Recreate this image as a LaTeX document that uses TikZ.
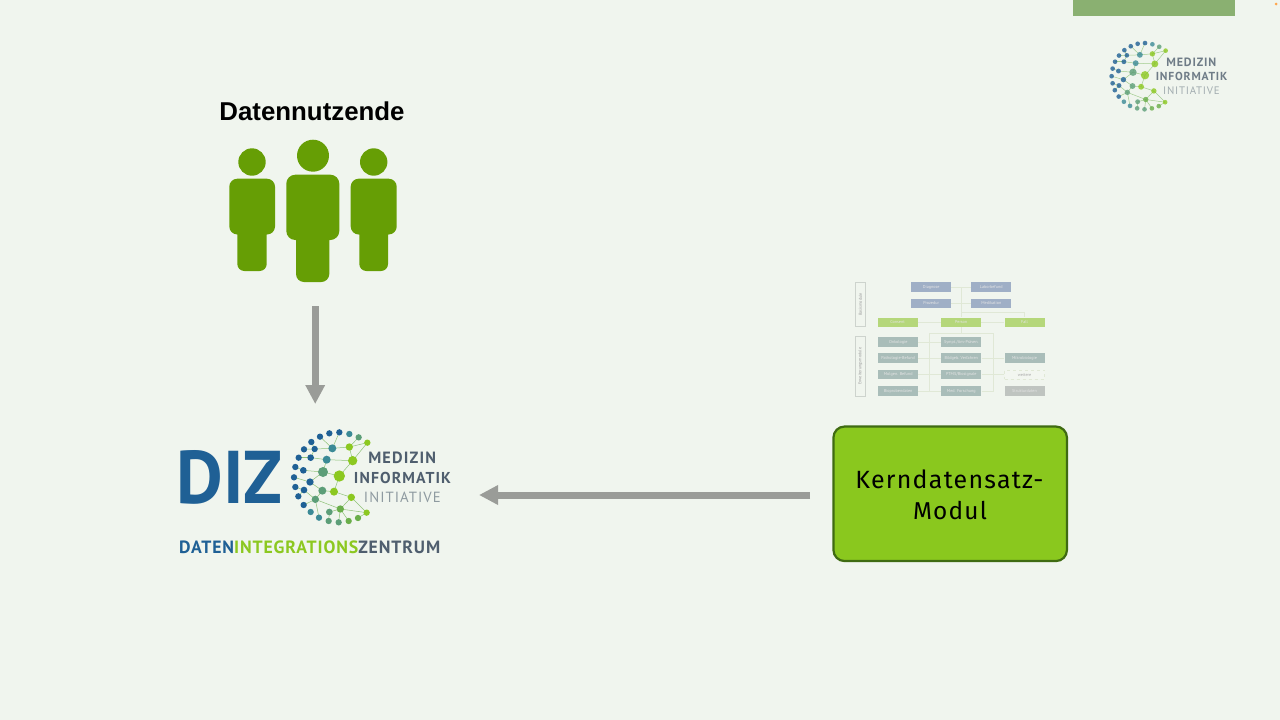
\documentclass[tikz,border=0pt]{standalone}
\usepackage{fontspec}
\usepackage{graphicx}
\setmainfont{Liberation Sans}
\newfontfamily\din{PT Sans}
\newfontfamily\dinlogo[LetterSpace=7]{PT Sans}
\newfontfamily\dinzen[LetterSpace=5]{PT Sans}
\newfontfamily\dinsp[LetterSpace=5]{Fira Sans}
\usetikzlibrary{arrows.meta,calc}
\definecolor{bgc}{HTML}{F0F5EE}
\definecolor{barc}{HTML}{8AB071}
\definecolor{pers}{HTML}{669E05}
\definecolor{arr}{HTML}{9A9C98}
\definecolor{modf}{HTML}{8AC81E}
\definecolor{modd}{HTML}{3F6B12}
\definecolor{basc}{HTML}{9FAFC6}
\definecolor{kern}{HTML}{B5D77A}
\definecolor{extc}{HTML}{A9BDB9}
\definecolor{strc}{HTML}{BFC4C0}
\definecolor{treec}{HTML}{E0E8D6}
\definecolor{sidec}{HTML}{CDD3CD}
\definecolor{lbA}{HTML}{1F6095}
\definecolor{lbB}{HTML}{3B8A96}
\definecolor{lbC}{HTML}{5C9E78}
\definecolor{lbD}{HTML}{8CC820}
\definecolor{lbE}{HTML}{6AAE4A}
\definecolor{slate}{HTML}{4F5E6E}
\definecolor{pale}{HTML}{8E9AA0}
\tikzset{
  chartbox/.style={minimum width=40pt,minimum height=9.4pt,inner sep=0pt,text=white!80!gray,font=\din\fontsize{4.2}{5}\selectfont},
  basbox/.style={chartbox,fill=basc},
  kernbox/.style={chartbox,fill=kern},
  extbox/.style={chartbox,fill=extc},
  strubox/.style={chartbox,fill=strc},
  weibox/.style={chartbox,draw=treec,dashed,line width=.4pt,fill=bgc!90!white,text=gray!70!white},
  sidebox/.style={draw=sidec,line width=.6pt,minimum width=9.3pt,inner sep=0pt,fill=bgc},
  sidetext/.style={rotate=90,text=gray!80!white,font=\din\fontsize{4.2}{5}\selectfont},
  tree/.style={draw=treec,line width=.6pt},
  fatarrow/.style={draw=arr,line width=7pt,-{Triangle[length=19pt,width=18.5pt]}},
  logotext/.style={inner sep=0pt,anchor=center},
  logoline/.style={draw=lbE!75!white,line width=.5pt}
}
\newcommand{\mylogo}[4]{%
\begin{scope}[shift={(#1,#2)},scale=#3,transform shape,opacity=#4]
\foreach \a/\b/\c/\d in {592/68/538/81,538/81/487/85,487/85/434/87,538/81/548/122,548/122/470/119,548/122/508/168,508/168/459/156,459/156/470/119,459/156/400/151,459/156/420/186,508/168/492/215,492/215/457/212,457/212/420/186,457/212/436/238,492/215/544/232,544/232/511/267,544/232/590/278,511/267/478/276,511/267/436/238,511/267/536/303,478/276/476/303,436/238/401/255,436/238/447/293,590/278/511/267,566/52/538/81,508/37/487/85,450/50/487/85,424/66/434/87,434/87/422/113,422/113/470/119,402/88/434/87,386/113/422/113,376/141/400/151,372/172/420/186,376/201/402/210,402/210/436/238,385/229/402/210,564/294/590/278,506/307/511/267,548/122/592/68}
  {\draw[logoline] (\a,\b) -- (\c,\d);}
\foreach \x/\y/\r/\k in {508/37/9.5/lbA,478/40/9.5/lbA,450/50/9.5/lbA,424/66/9.5/lbA,402/88/9.5/lbA,386/113/9.5/lbA,376/141/9.5/lbA,372/172/9.5/lbA,376/201/9.5/lbA,385/229/9.5/lbA,401/255/9.5/lbA,422/276/9.5/lbB,447/293/9.5/lbB,476/303/9.5/lbC,506/307/9.5/lbC,536/303/9.5/lbE,564/294/9.5/lbE,590/278/9.5/lbD,538/42/9.5/lbB,566/52/9.5/lbC,592/68/9.5/lbD,434/87/9.5/lbA,422/113/10/lbA,400/151/10/lbA,420/186/11/lbA,402/210/10/lbA,487/85/12/lbB,538/81/11/lbD,470/119/12/lbB,548/122/14/lbD,459/156/15/lbC,508/168/17/lbD,457/212/12/lbC,492/215/12/lbD,436/238/11/lbC,544/232/11/lbD,478/276/10/lbC,511/267/11/lbE}
  {\fill[\k] (\x,\y) circle[radius=\r];}
\node[logotext,text=slate] at (696.5,114) {\resizebox{203pt}{!}{\dinlogo\bfseries MEDIZIN}};
\node[logotext,text=slate] at (697.5,174) {\resizebox{291pt}{!}{\dinlogo\bfseries INFORMATIK}};
\node[logotext,text=pale] at (697,233) {\resizebox{230pt}{!}{\dinlogo INITIATIVE}};
\end{scope}}
\begin{document}
\begin{tikzpicture}[x=1pt,y=-1pt]
\useasboundingbox (0,0) rectangle (1280,720);
\fill[bgc] (0,0) rectangle (1280,720);
\fill[barc] (1073,0) rectangle (1235,16);
\fill[orange!70!white] (1276,4) circle[radius=1.5];
\mylogo{1020.3}{33.97}{0.2455}{0.8}
\mylogo{170}{420}{0.33333}{1}
% DIZ
\node[logotext,text=lbA] (diz) at (229.7,477.8) {\resizebox{106pt}{53pt}{\din\bfseries DIZ}};
\node[logotext] (zentrum) at (309.7,547) {\resizebox{261pt}{!}{\dinzen\bfseries\textcolor{lbA}{DATEN}\textcolor{lbD}{INTEGRATIONS}\textcolor{slate}{ZENTRUM}}};
% title
\node[inner sep=0pt] (title) at (312,111.5) {\resizebox{185pt}{!}{\bfseries Datennutzende}};
% people
\fill[pers] (252,162) circle[radius=13.7];
\fill[pers,rounded corners=8pt] (229.3,178.7) rectangle (275,234.5);
\fill[pers,rounded corners=7pt] (237.3,220) rectangle (266.7,271);
\fill[pers] (373.7,162) circle[radius=13.7];
\fill[pers,rounded corners=8pt] (350.7,178.7) rectangle (396.7,234.5);
\fill[pers,rounded corners=7pt] (359.3,220) rectangle (388,271);
\fill[pers] (313,155.7) circle[radius=16];
\fill[pers,rounded corners=9pt] (286.3,174.7) rectangle (339.3,240);
\fill[pers,rounded corners=8pt] (296,225) rectangle (329.3,282);
% module box
\node[draw=modd,fill=modf,line width=2.2pt,rounded corners=11pt,minimum width=233.5pt,minimum height=134.5pt,inner sep=0pt] (modul) at (950.2,493.8) {};
\node[inner sep=0pt] (kern1) at (949.5,479.5) {\resizebox{188pt}{!}{\dinsp Kerndatensatz-}};
\node[inner sep=0pt] (kern2) at (950,510.5) {\resizebox{74pt}{!}{\dinsp Modul}};
% arrows
\coordinate (a1s) at (315.2,306);
\coordinate (a1e) at (315.2,404);
\coordinate (a2s) at (810,495);
\coordinate (a2e) at (479,495);
\draw[fatarrow] (a1s) -- (a1e);
\draw[fatarrow] (a2s) -- (a2e);
% chart nodes
\node[basbox] (dia) at (931.2,287) {Diagnose};
\node[basbox] (lab) at (991.3,287) {Laborbefund};
\node[basbox] (pro) at (931.2,303.3) {Prozedur};
\node[basbox] (med) at (991.3,303.3) {Medikation};
\node[kernbox] (con) at (897.5,322.3) {Consent};
\node[kernbox] (per) at (961.2,322.3) {Person};
\node[kernbox] (fal) at (1024.5,322.3) {Fall};
\node[extbox] (onk) at (898.2,342) {Onkologie};
\node[extbox] (pat) at (898.2,358) {Pathologie-Befund};
\node[extbox] (mol) at (898.2,374.7) {Molgen. Befund};
\node[extbox] (bio) at (898.2,391) {Bioprobendaten};
\node[extbox] (sym) at (961.3,342) {Sympt./Am.-Präven.};
\node[extbox] (bil) at (961.3,358) {Bildgeb. Verfahren};
\node[extbox] (pta) at (961.3,374.7) {PTMS/Biosignale};
\node[extbox] (mfo) at (961.3,391) {Med. Forschung};
\node[extbox] (mik) at (1024.5,358) {Mikrobiologie};
\node[weibox] (wei) at (1024.5,374.7) {weitere};
\node[strubox] (str) at (1024.5,391) {Strukturdaten};
\node[sidebox,minimum height=44.7pt] (sba) at (860.3,304.3) {};
\node[sidetext] at (sba) {Basismodule};
\node[sidebox,minimum height=59.3pt] (ser) at (860.3,366.3) {};
\node[sidetext] at (ser) {Erweiterungsmodule};
% chart connectors
\coordinate (spine) at (dia.east -| per.north);
\coordinate (fork) at ($(per.north)+(0,-4.7)$);
\coordinate (busm) at ($(per.south)+(0,6)$);
\coordinate (busl) at (929,333);
\coordinate (busr) at (993.7,333);
\coordinate (busle) at (busl |- bio.east);
\coordinate (busre) at (busr |- mfo.east);
\path[tree] (dia) -- (lab);
\path[tree] (pro) -- (med);
\path[tree] (spine) -- (per.north);
\path[tree] (fork) -| (fal.north);
\path[tree] (con) -- (per);
\path[tree] (per) -- (fal);
\path[tree] (per.south) -- (busm);
\path[tree] (busl) -- (busr);
\path[tree] (busl) -- (busle);
\path[tree] (busr) -- (busre);
\path[tree] (onk) -- (sym);
\path[tree] (pat) -- (bil);
\path[tree] (mol) -- (pta);
\path[tree] (bio) -- (mfo);
\path[tree] (bil) -- (mik);
\path[tree] (pta) -- (wei);
\path[tree] (mfo.east) -- (busre);
\end{tikzpicture}
\end{document}
